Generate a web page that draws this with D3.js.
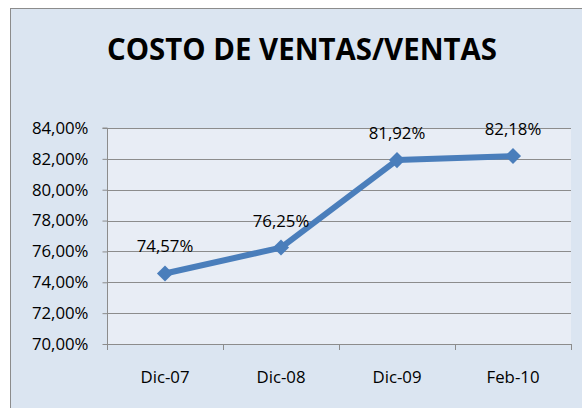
<!DOCTYPE html>
<html><head><meta charset="utf-8">
<script src="https://cdn.jsdelivr.net/npm/d3@7"></script>
<style>html,body{margin:0;padding:0;background:#fff;}svg{display:block;}</style>
</head><body>
<svg id="c" width="582" height="408"></svg>
<script>
const categories = ["Dic-07", "Dic-08", "Dic-09", "Feb-10"];
const values = [74.57, 76.25, 81.92, 82.18];
const valueLabels = ["74,57%", "76,25%", "81,92%", "82,18%"];
const yTicks = [70, 72, 74, 76, 78, 80, 82, 84];
const title = "COSTO DE VENTAS/VENTAS";

const svg = d3.select("#c");
const font = "'Open Sans', sans-serif";
const fs = 16.8;
// outer chart frame
svg.append("rect").attr("x", 10.5).attr("y", 8.5).attr("width", 580).attr("height", 410)
  .attr("fill", "#DBE5F1").attr("stroke", "#8C8C8C").attr("stroke-width", 1);

const L = 107, R = 571, T = 128, B = 344;
svg.append("rect").attr("x", L).attr("y", T).attr("width", R - L).attr("height", B - T).attr("fill", "#E8EDF5");

const x = d3.scaleBand().domain(categories).range([L, R]);
const y = d3.scaleLinear().domain([70, 84]).range([B, T]);

// gridlines
svg.append("g").selectAll("line").data(yTicks.slice(1)).join("line")
  .attr("x1", L).attr("x2", R).attr("y1", d => Math.round(y(d)) + 0.5).attr("y2", d => Math.round(y(d)) + 0.5)
  .attr("stroke", "#8C8C8C").attr("stroke-width", 1);

// y axis
const yAxis = svg.append("g").attr("transform", `translate(${L + 0.5},0)`)
  .call(d3.axisLeft(y).tickValues(yTicks).tickSize(5).tickPadding(14)
    .tickFormat(d => d.toFixed(2).replace(".", ",") + "%"));
yAxis.select(".domain").attr("stroke", "#8C8C8C").attr("d", `M-5,${T}H0V${B}`);
yAxis.selectAll(".tick line").attr("stroke", "#8C8C8C");
yAxis.selectAll("text").attr("font-family", font).attr("font-size", fs).attr("fill", "#000");

// x axis
const xAxis = svg.append("g").attr("transform", `translate(0,${B + 0.5})`)
  .call(d3.axisBottom(x).tickSize(0).tickPadding(27));
xAxis.select(".domain").attr("stroke", "#8C8C8C").attr("d", `M${L},0H${R}`);
xAxis.selectAll("text").attr("font-family", font).attr("font-size", fs).attr("fill", "#000");
// category boundary ticks
const bounds = categories.map(c => x(c)).concat([R]);
svg.append("g").selectAll("line").data(bounds).join("line")
  .attr("x1", d => Math.round(d) + 0.5).attr("x2", d => Math.round(d) + 0.5)
  .attr("y1", B).attr("y2", B + 6).attr("stroke", "#8C8C8C");

const cx = c => x(c) + x.bandwidth() / 2;
// line
svg.append("path").datum(values)
  .attr("d", d3.line().x((d, i) => cx(categories[i])).y(d => y(d)))
  .attr("fill", "none").attr("stroke", "#4A7EBB").attr("stroke-width", 6).attr("stroke-linejoin", "round");
// markers
svg.append("g").selectAll("path").data(values).join("path")
  .attr("transform", (d, i) => `translate(${cx(categories[i])},${y(d)})`)
  .attr("d", d3.symbol(d3.symbolDiamond2, 165)())
  .attr("fill", "#4A7EBB");
// value labels
svg.append("g").selectAll("text").data(values).join("text")
  .attr("x", (d, i) => cx(categories[i])).attr("y", d => y(d) - 21)
  .attr("text-anchor", "middle").attr("font-family", font).attr("font-size", fs).attr("fill", "#000")
  .text((d, i) => valueLabels[i]);

// title
svg.append("text").attr("x", 302).attr("y", 60).attr("text-anchor", "middle")
  .attr("font-family", font).attr("font-weight", "bold").attr("font-size", 31).attr("fill", "#000")
  .attr("textLength", 390).attr("lengthAdjust", "spacingAndGlyphs")
  .text(title);
</script>
</body></html>
